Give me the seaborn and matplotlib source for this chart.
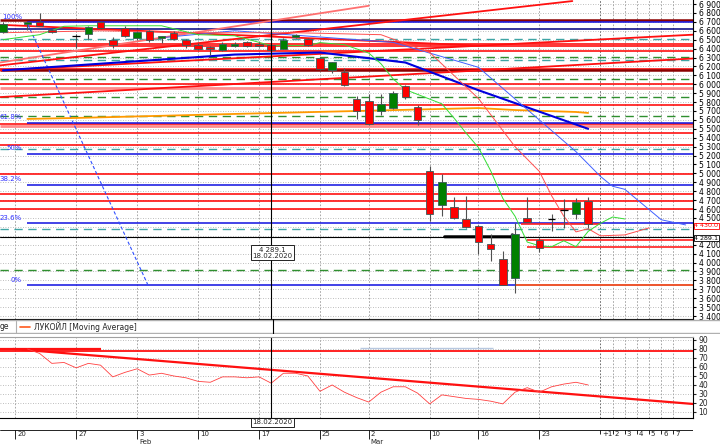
import matplotlib
matplotlib.use("Agg")
import numpy as np
import pandas as pd
import matplotlib.pyplot as plt
import matplotlib.transforms as mtransforms
import seaborn as sns

sns.set_style("white")
plt.rcParams["font.family"] = ["DejaVu Sans"]
plt.rcParams["font.size"] = 5.5

# ── Свечи (индекс торгового дня: 0 = 17.01) ──────────────────────────────
nan = np.nan
day = list(range(49))
open_ = [6589, nan, 6678, 6700, 6611, nan, 6544, 6567, 6700, 6500, 6633, 6522, 6600, 6522,
         6578, 6500, 6444, 6422, 6389, 6433, 6478, 6456, 6440, 6400, 6530, 6511, 6300, 6156,
         6133, 5833, 5811, 5700, 5733, 5978, 5744, 5022, 4644, 4622, 4489, 4411, 4211, 4044,
         3822, 4500, 4256, 4489, 4589, 4544, 4689]
high = [6700, nan, 6710, 6800, 6622, nan, 6560, 6656, 6710, 6530, 6656, 6600, 6610, 6544,
        6600, 6510, 6460, 6430, 6470, 6470, 6490, 6470, 6600, 6520, 6560, 6520, 6310, 6250,
        6178, 5867, 5889, 5889, 5920, 5990, 5767, 5078, 4989, 4733, 4744, 4420, 4322, 4133,
        4444, 4733, 4270, 4544, 4711, 4722, 4733]
low = [6570, nan, 6611, 6650, 6580, nan, 6411, 6511, 6620, 6411, 6530, 6500, 6470, 6467,
       6500, 6411, 6380, 6333, 6370, 6420, 6420, 6420, 6370, 6390, 6520, 6430, 6160, 6122,
       5980, 5611, 5545, 5656, 5720, 5840, 5544, 4467, 4522, 4489, 4390, 4100, 4022, 3744,
       3656, 4450, 4122, 4356, 4389, 4489, 4389]
close = [6678, nan, 6700, 6656, 6589, nan, 6544, 6644, 6633, 6444, 6544, 6589, 6500, 6544,
         6511, 6444, 6400, 6400, 6456, 6456, 6433, 6433, 6380, 6500, 6550, 6444, 6167, 6244,
         5989, 5700, 5556, 5778, 5900, 5856, 5600, 4544, 4900, 4500, 4400, 4233, 4156, 3744,
         4322, 4456, 4167, 4489, 4589, 4678, 4430]

# ── Скользящие средние ───────────────────────────────────────────────────
ma_green_x = [0, 3, 5, 7, 13, 16, 19, 22, 25, 26, 28, 30, 31, 32, 33, 36, 37, 38, 39, 40,
              41, 42, 43, 44, 45, 46, 47, 48, 49, 50, 51]
ma_green = [6500, 6556, 6650, 6656, 6656, 6556, 6544, 6433, 6433, 6467, 6444, 6350, 6230,
            6060, 5940, 5780, 5620, 5450, 5290, 5030, 4720, 4520, 4230, 4189, 4178, 4244,
            4178, 4350, 4440, 4511, 4489]
ma_red_x = [0, 8, 16, 24, 31, 35, 39, 42, 44, 45, 46, 47, 48, 49, 51, 53]
ma_red = [6578, 6600, 6578, 6578, 6556, 6356, 5840, 5300, 5022, 4750, 4520, 4344, 4380,
          4300, 4310, 4389]
ma_blue_x = [13, 19, 32, 39, 47, 49, 50, 51, 54, 56]
ma_blue = [6522, 6600, 6470, 6190, 5244, 4967, 4856, 4822, 4480, 4422]
ma_navy_x = [0, 19, 26, 33, 39, 48]
ma_navy = [6156, 6333, 6356, 6244, 5933, 5500]
ma_orange_x = [2, 6, 19, 39, 42, 47, 48]
ma_orange = [5611, 5622, 5667, 5733, 5711, 5689, 5678]

# ── Уровни ───────────────────────────────────────────────────────────────
red_levels = [6456, 6433, 6378, 6167, 6000, 5767, 5556, 5456, 5322, 4989, 4767, 4689, 4600]
darkred_levels = [6722, 6156]
pink_levels = [5956, 5535]
green_dashed = [6311, 6056, 5856, 5644, 3922]
teal_dashed = [6511, 6267, 5278, 4378]
navy_levels = [6622]
fib_high, fib_low = 6700, 3744
fib_ratios = [1.0, 0.618, 0.5, 0.382, 0.236, 0.0]
fib_labels = ["100%", "61.8%", "50%", "38.2%", "23.6%", "0%"]
cross_price = 4289.1
last_price = 4430.0

# трендовые линии: (x1, y1, x2, y2)
red_trends = [(-0.25, 6211, 46.7, 6933), (-0.25, 6156, 56.6, 6556),
              (-0.25, 5856, 56.6, 6289), (-0.25, 6667, 39.1, 6433)]
pink_trends = [(-0.25, 6244, 30, 6880)]
blue_dash_trend = (2.05, 6667, 11.9, 3744)

# ── Нижняя панель ────────────────────────────────────────────────────────
osc_x = list(range(2, 49))
osc = [80, 75, 64, 65, 59, 64, 62, 49, 54, 58, 51, 53, 50, 48, 44, 43, 49, 49, 48, 49, 42,
       53, 53, 50, 33, 40, 32, 26, 21, 32, 38, 38, 31, 19, 29, 27, 25, 24, 22, 19, 32, 37,
       32, 38, 41, 43, 40]
osc_trend = (0.82, 80, 56.6, 18.9)
osc_level = 77.8

# ── Ось дат ──────────────────────────────────────────────────────────────
week_days = [1, 6, 11, 16, 21, 26, 30, 35, 39, 44]
week_labels = ["20", "27", "3", "10", "17", "25", "2", "10", "16", "23"]
future_days = [49, 50, 51, 52, 53, 54, 55]
future_labels = ["+1", "2", "3", "4", "5", "6", "7"]
months = {11: "Feb", 30: "Mar"}
cross_day = 22

XMIN, XMAX = -0.25, 56.6
W = 693 / 720

fig = plt.figure(figsize=(7.2, 4.45), dpi=100)
ax = fig.add_axes([0, 1 - 319 / 445, W, 319 / 445])
ax_leg = fig.add_axes([0, 1 - 334 / 445, 1, 15 / 445])
ax2 = fig.add_axes([0, 1 - 418 / 445, W, 81 / 445])
ax3 = fig.add_axes([0, 0, W, 27 / 445])

# ── Основная панель ──────────────────────────────────────────────────────
ax.set_xlim(XMIN, XMAX)
ax.set_ylim(3367, 6945)
price_ticks = list(range(3400, 7000, 100))
ax.set_yticks(price_ticks)
# метки 4 400 и 4 300 закрыты плашками текущих цен
ax.set_yticklabels(["" if v in (4400, 4300) else f"{v:,}".replace(",", " ")
                    for v in price_ticks])
ax.yaxis.tick_right()
ax.tick_params(axis="y", labelsize=5.5, length=2.5, pad=1.5, colors="black")
ax.set_xticks([])
ax.grid(axis="y", color="#a8a8a8", ls=(0, (1, 2)), lw=0.6)
ax.set_axisbelow(True)
for d in week_days + future_days:
    ax.axvline(d, color="#555555" if d == 49 else "#999999", ls=(0, (2, 2)), lw=0.6, zorder=0)
for s in ["left", "top"]:
    ax.spines[s].set_visible(False)
for s in ["right", "bottom"]:
    ax.spines[s].set_color("black")
    ax.spines[s].set_linewidth(0.8)

ax.hlines(green_dashed, XMIN, XMAX, color="#2f8f2f", lw=1.0, ls=(0, (6, 4)), zorder=1)
ax.hlines(teal_dashed, XMIN, XMAX, color="#3fa5a5", lw=1.0, ls=(0, (6, 4)), zorder=1)
ax.hlines(pink_levels, XMIN, XMAX, color="#ff8c8c", lw=2.0, zorder=1)
ax.hlines(red_levels, XMIN, XMAX, color="#ff1010", lw=1.2, zorder=2)
ax.hlines(darkred_levels, XMIN, XMAX, color="#8b0000", lw=1.8, zorder=2)
ax.hlines(navy_levels, XMIN, XMAX, color="#000080", lw=1.1, zorder=2)

fib_levels = [fib_low + r * (fib_high - fib_low) for r in fib_ratios]
ax.hlines(fib_levels, 1.97, XMAX, color="#1010e0", lw=1.1, zorder=2)
for lv, lab in zip(fib_levels, fib_labels):
    ax.text(1.55, lv + 25, lab, color="#3030ff", fontsize=5, ha="right", va="bottom")

ax.hlines([4256, 4178], 43, XMAX, color="#ff2020", lw=1.2, zorder=2)
ax.hlines([last_price], 42.5, 49, color="#ff2020", lw=1.2, zorder=2)
ax.hlines([fib_low], 42, XMAX, color="#ff5a1e", lw=1.3, zorder=2)
ax.axhline(cross_price, color="black", lw=0.8, zorder=2)
ax.annotate("", xy=(42.6, cross_price), xytext=(36, cross_price),
            arrowprops=dict(arrowstyle="-|>", color="black", lw=2.2, mutation_scale=7), zorder=3)

for x1, y1, x2, y2 in red_trends:
    ax.plot([x1, x2], [y1, y2], color="#ff1010", lw=1.3, zorder=2)
for x1, y1, x2, y2 in pink_trends:
    ax.plot([x1, x2], [y1, y2], color="#ff7070", lw=1.3, zorder=2)
x1, y1, x2, y2 = blue_dash_trend
ax.plot([x1, x2], [y1, y2], color="#3050ff", lw=0.8, ls=(0, (3, 2)), zorder=2)

ma_specs = [(ma_orange_x, ma_orange, "#ff9a00", 1.3),
            (ma_navy_x, ma_navy, "#0000dd", 1.5),
            (ma_blue_x, ma_blue, "#4060ff", 0.7),
            (ma_red_x, ma_red, "#ff5050", 0.7),
            (ma_green_x, ma_green, "#33dd33", 0.7)]
for xs, ys, col, lw in ma_specs:
    df = pd.DataFrame({"day": xs, "price": ys})
    sns.lineplot(data=df, x="day", y="price", ax=ax, color=col, lw=lw,
                 estimator=None, sort=False, zorder=3)
ax.set_xlabel("")
ax.set_ylabel("")

candles = pd.DataFrame({"day": day, "o": open_, "h": high, "l": low, "c": close}).dropna()
ax.vlines(candles["day"], candles["l"], candles["h"], color="#505050", lw=0.8, zorder=4)
body = candles[candles["o"] != candles["c"]]
ax.bar(body["day"], (body["c"] - body["o"]).abs(), bottom=body[["o", "c"]].min(axis=1),
       width=0.62, color=np.where(body["c"] > body["o"], "#008000", "#ff0000"),
       edgecolor="#3c5a5a", lw=0.6, zorder=5)
doji = candles[candles["o"] == candles["c"]]
ax.hlines(doji["o"], doji["day"] - 0.31, doji["day"] + 0.31, color="black", lw=0.9, zorder=5)

ax.axvline(cross_day, color="black", lw=0.8, zorder=6)
ax.text(cross_day + 0.1, 4110, "4 289.1\n18.02.2020", fontsize=5, ha="center", va="center",
        linespacing=1.0, zorder=7,
        bbox=dict(boxstyle="square,pad=0.25", fc="white", ec="black", lw=0.6))
tr = mtransforms.blended_transform_factory(ax.transAxes, ax.transData)
ax.text(1.002, last_price - 15, "4 430.0", transform=tr, color="#ff0000", fontsize=4.6,
        va="center", ha="left", clip_on=False,
        bbox=dict(boxstyle="square,pad=0.08", fc="white", ec="#ff0000", lw=0.6))
ax.text(1.002, cross_price - 15, "4 289.1", transform=tr, color="black", fontsize=4.6,
        va="center", ha="left", clip_on=False,
        bbox=dict(boxstyle="square,pad=0.08", fc="white", ec="black", lw=0.6))

# ── Легенда ──────────────────────────────────────────────────────────────
ax_leg.set_xlim(0, 720)
ax_leg.set_ylim(15, 0)
ax_leg.axis("off")
ax_leg.axhline(0.7, color="#b0b0b0", lw=1.0)
ax_leg.axhline(14, color="#b0b0b0", lw=1.0)
ax_leg.axvline(16, ymin=0.1, ymax=0.9, color="#b0b0b0", lw=0.8)
ax_leg.axvline(273, color="black", lw=0.8)
ax_leg.text(0, 7.5, "ge", fontsize=5.5, va="center")
ax_leg.plot([20, 30], [7.5, 7.5], color="#ff5a1e", lw=1.2)
ax_leg.text(34, 7.5, "ЛУКОЙЛ [Moving Average]", fontsize=5.5, va="center")

# ── Нижняя панель ────────────────────────────────────────────────────────
ax2.set_xlim(XMIN, XMAX)
ax2.set_ylim(3.3, 93.3)
ax2.set_yticks(range(10, 100, 10))
ax2.yaxis.tick_right()
ax2.tick_params(axis="y", labelsize=5.5, length=2.5, pad=1.5)
ax2.set_xticks([])
ax2.grid(axis="y", color="#a8a8a8", ls=(0, (1, 2)), lw=0.6)
ax2.set_axisbelow(True)
for d in week_days + future_days:
    ax2.axvline(d, color="#555555" if d == 49 else "#999999", ls=(0, (2, 2)), lw=0.6, zorder=0)
ax2.spines["left"].set_visible(False)
ax2.spines["top"].set_color("#a0a0a0")
for s in ["right", "bottom"]:
    ax2.spines[s].set_color("black")
    ax2.spines[s].set_linewidth(0.8)
ax2.axhline(osc_level, color="#ff1010", lw=1.3)
ax2.hlines([80], XMIN, 8, color="#ff1010", lw=1.6)
ax2.hlines([81], 29.3, 40.2, color="#b8c8e0", lw=1.0)
x1, y1, x2, y2 = osc_trend
ax2.plot([x1, x2], [y1, y2], color="#ff1010", lw=1.6)
sns.lineplot(x=osc_x, y=osc, ax=ax2, color="#ff4040", lw=0.6, estimator=None, sort=False)
ax2.axvline(cross_day, color="black", lw=0.8)

# ── Ось дат ──────────────────────────────────────────────────────────────
ax3.set_xlim(XMIN, XMAX)
ax3.set_ylim(27, 0)
ax3.axis("off")
ax3.axhline(12, color="black", lw=0.6)
ax3.vlines(week_days, 12, 21, color="black", lw=0.6)
ax3.vlines(future_days, 12, 16, color="black", lw=0.6)
for d, lab in zip(week_days + future_days, week_labels + future_labels):
    ax3.text(d + 0.15, 16.5, lab, fontsize=5, va="center", ha="left")
for d, lab in months.items():
    ax3.text(d + 0.15, 24, lab, fontsize=5, va="center", ha="left")
ax3.text(cross_day + 0.1, 4.5, "18.02.2020", fontsize=5, ha="center", va="center",
         bbox=dict(boxstyle="square,pad=0.2", fc="white", ec="black", lw=0.6))

fig.savefig("out.png", dpi=100)
